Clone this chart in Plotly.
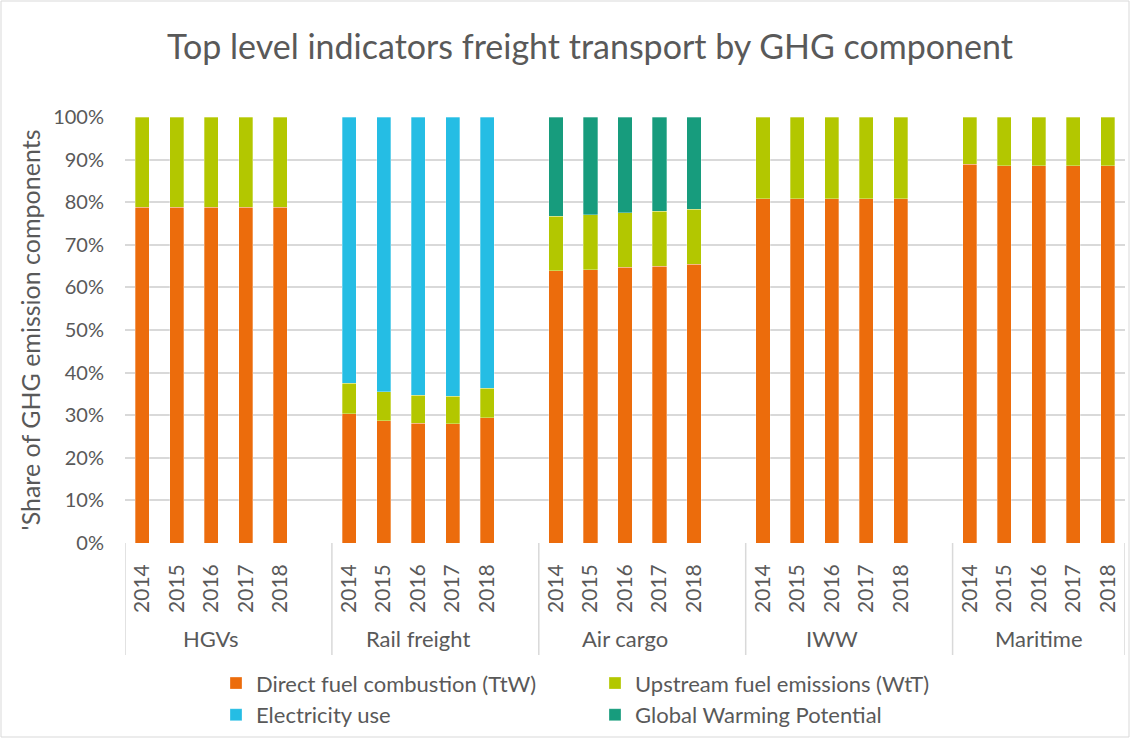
import plotly.graph_objects as go

groups = ["HGVs", "Rail freight", "Air cargo", "IWW", "Maritime"]
years = ["2014", "2015", "2016", "2017", "2018"]

# shares in %, per group, per year
ttw = {
    "HGVs": [78.8, 78.8, 78.8, 78.8, 78.8],
    "Rail freight": [30.3, 28.7, 28.1, 28.0, 29.4],
    "Air cargo": [63.9, 64.2, 64.7, 65.0, 65.4],
    "IWW": [80.8, 80.8, 80.8, 80.8, 80.8],
    "Maritime": [88.9, 88.6, 88.6, 88.6, 88.6],
}
wtt = {
    "HGVs": [21.2, 21.2, 21.2, 21.2, 21.2],
    "Rail freight": [7.2, 6.8, 6.6, 6.4, 6.9],
    "Air cargo": [12.8, 12.9, 12.8, 12.9, 13.0],
    "IWW": [19.2, 19.2, 19.2, 19.2, 19.2],
    "Maritime": [11.1, 11.4, 11.4, 11.4, 11.4],
}
electricity = {"Rail freight": [62.5, 64.5, 65.3, 65.6, 63.7]}
gwp = {"Air cargo": [23.3, 22.9, 22.5, 22.1, 21.6]}

series = [
    ("Direct fuel combustion (TtW)", ttw, "#EC6C0C"),
    ("Upstream fuel emissions (WtT)", wtt, "#B3C700"),
    ("Electricity use", electricity, "#25BDE4"),
    ("Global Warming Potential", gwp, "#179C7D"),
]

SLOTS = len(years) + 1  # one empty slot between groups


def slot(g, i):
    return g * SLOTS + i


fig = go.Figure()
for name, data, color in series:
    xs, ys = [], []
    for g, grp in enumerate(groups):
        if grp in data:
            for i, v in enumerate(data[grp]):
                xs.append(slot(g, i))
                ys.append(v / 100)
    fig.add_trace(go.Bar(
        x=xs, y=ys, name=name, width=0.41,
        marker=dict(color=color, line=dict(width=0.6, color="rgba(255,255,255,0.5)")),
    ))

tickvals = [slot(g, i) for g in range(len(groups)) for i in range(len(years))]
ticktext = [y for _ in groups for y in years]

gray = "#595959"
font = "Lato"
xmax = slot(len(groups) - 1, len(years) - 1) + 0.5

fig.update_layout(
    barmode="stack",
    width=1131, height=738,
    margin=dict(l=125, r=6, t=117, b=195, autoexpand=False),
    paper_bgcolor="white", plot_bgcolor="white",
    font=dict(family=font, color=gray, size=20),
    title=dict(text="Top level indicators freight transport by GHG component",
               x=590 / 1131, xanchor="center", y=0.936, yanchor="middle",
               font=dict(size=34, color=gray, family=font)),
    xaxis=dict(range=[-0.5, xmax], tickvals=tickvals, ticktext=ticktext,
               tickangle=-90, showgrid=False, zeroline=False, showline=False,
               automargin=False,
               ticks="", ticklabelstandoff=16, tickfont=dict(size=21, color=gray)),
    yaxis=dict(range=[0, 1], tickformat=".0%", dtick=0.1, showgrid=True,
               gridcolor="#D9D9D9", gridwidth=1.5, zeroline=False,
               automargin=False,
               ticks="", ticklabelstandoff=20, tickfont=dict(size=20, color=gray),
               title=dict(text="'Share of GHG emission components", standoff=5,
                          font=dict(size=25, color=gray))),
    legend=dict(orientation="h", x=0.091, xanchor="left", y=-0.28, yanchor="top",
                entrywidth=334, entrywidthmode="pixels", traceorder="normal",
                font=dict(size=22, color=gray), itemwidth=30),
    showlegend=True,
)

# category dividers and group labels
div_bottom = -(655 - 543) / 426
for g in range(len(groups) + 1):
    xv = g * SLOTS - 0.5 if g < len(groups) else xmax
    fig.add_shape(type="line", xref="x", yref="paper", x0=xv, x1=xv,
                  y0=0, y1=div_bottom, line=dict(color="#D9D9D9", width=1.5))
for g, grp in enumerate(groups):
    fig.add_annotation(x=slot(g, 2), y=-(638 - 543) / 426, xref="x", yref="paper",
                       text=grp, showarrow=False, yanchor="middle",
                       font=dict(size=22, color=gray, family=font))

# chart border
fig.add_shape(type="rect", xref="paper", yref="paper",
              x0=-124 / 1000, x1=1 + 4 / 1000, y0=-194 / 426, y1=1 + 116 / 426,
              line=dict(color="#D9D9D9", width=1))

fig.write_html("out.html", config={"displayModeBar": False},
               post_script="document.body.style.margin='0px';")
